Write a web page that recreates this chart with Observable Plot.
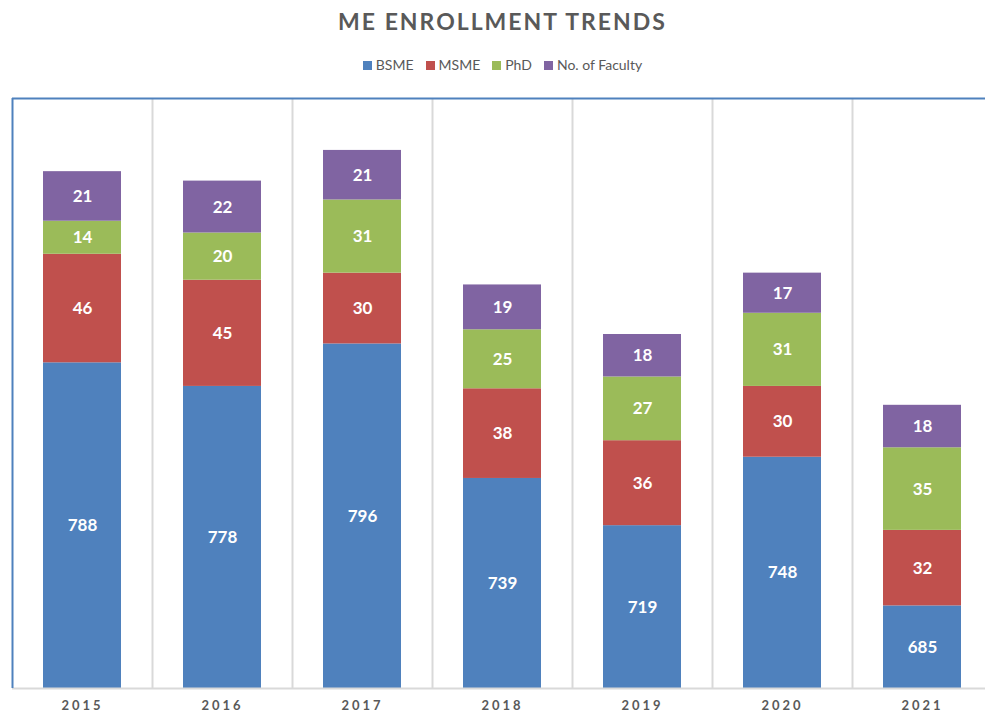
<!DOCTYPE html>
<html><head><meta charset="utf-8">
<script src="https://cdn.jsdelivr.net/npm/d3@7"></script>
<script src="https://cdn.jsdelivr.net/npm/@observablehq/plot@0.6"></script>
<style>
html,body{margin:0;padding:0;background:#fff;overflow:hidden;width:985px;height:714px;}
#wrap{position:relative;width:985px;height:714px;overflow:hidden;font-family:Lato,"Open Sans",sans-serif;}
#title{position:absolute;top:7px;left:12px;width:981px;text-align:center;font-size:23px;font-weight:bold;color:#595959;letter-spacing:2px;}
#legend{position:absolute;top:56px;left:12px;width:981px;text-align:center;font-size:14px;color:#595959;}
#legend span.item{margin:0 6px;white-space:nowrap;}
#legend span.sw{display:inline-block;width:9px;height:9px;margin-right:4px;vertical-align:0px;}
#chart{position:absolute;top:88px;left:0;width:993px;}
#chart svg{max-width:none !important;}
#chart svg [aria-label="x-axis tick label"] text{letter-spacing:3px;}
</style></head>
<body><div id="wrap"><div id="title">ME ENROLLMENT TRENDS</div><div id="legend"></div><div id="chart"></div></div>
<script>
const years = ["2015","2016","2017","2018","2019","2020","2021"];
const series = ["BSME","MSME","PhD","No. of Faculty"];
const colors = ["#4F81BD","#C0504D","#9BBB59","#8064A2"];
const bsme = [788,778,796,739,719,748,685];
const msme = [46,45,30,38,36,30,32];
const phd = [14,20,31,25,27,31,35];
const faculty = [21,22,21,19,18,17,18];
const yDomain = [650, 900];

const values = [bsme, msme, phd, faculty];
const rows = [];
years.forEach((yr, i) => {
  let acc = 0;
  values.forEach((arr, s) => {
    const v = arr[i];
    const y1 = s === 0 ? yDomain[0] : acc;
    const y2 = acc + v;
    acc = y2;
    rows.push({year: yr, series: series[s], value: v, y1, y2, mid: (y1 + y2) / 2});
  });
});

const leg = document.getElementById("legend");
series.forEach((s, i) => {
  const it = document.createElement("span");
  it.className = "item";
  it.innerHTML = `<span class="sw" style="background:${colors[i]}"></span>${s}`;
  leg.appendChild(it);
});

const chart = Plot.plot({
  width: 993, height: 626,
  marginTop: 10, marginBottom: 26, marginLeft: 12, marginRight: 0,
  style: {fontFamily: "Lato, 'Open Sans', sans-serif", background: "transparent", maxWidth: "none"},
  x: {domain: years, paddingInner: 0.44, paddingOuter: 0.22, label: null},
  y: {domain: yDomain, axis: null},
  color: {domain: series, range: colors},
  marks: [
    Plot.ruleX(years.slice(0, -1), {x: d => d, dx: 70, y1: yDomain[0], y2: yDomain[1], stroke: "#d9d9d9", strokeWidth: 2}),
    Plot.barY(rows, {x: "year", y1: "y1", y2: "y2", fill: "series", clip: true}),
    Plot.text(rows, {x: "year", y: "mid", text: d => String(d.value), fill: "white", fontSize: 17, fontWeight: "bold"}),
    Plot.ruleY([yDomain[0]], {stroke: "#d9d9d9", strokeWidth: 2}),
    Plot.ruleY([yDomain[1]], {stroke: "#4F81BD", strokeWidth: 2}),
    Plot.ruleX([years[0]], {x: d => d, dx: -70, y1: yDomain[0], y2: yDomain[1], stroke: "#4F81BD", strokeWidth: 2}),
    Plot.axisX({tickSize: 0, tickPadding: 12, fontSize: 13, fontWeight: "bold", fill: "#595959", label: null})
  ]
});
document.getElementById("chart").appendChild(chart);
</script></body></html>
